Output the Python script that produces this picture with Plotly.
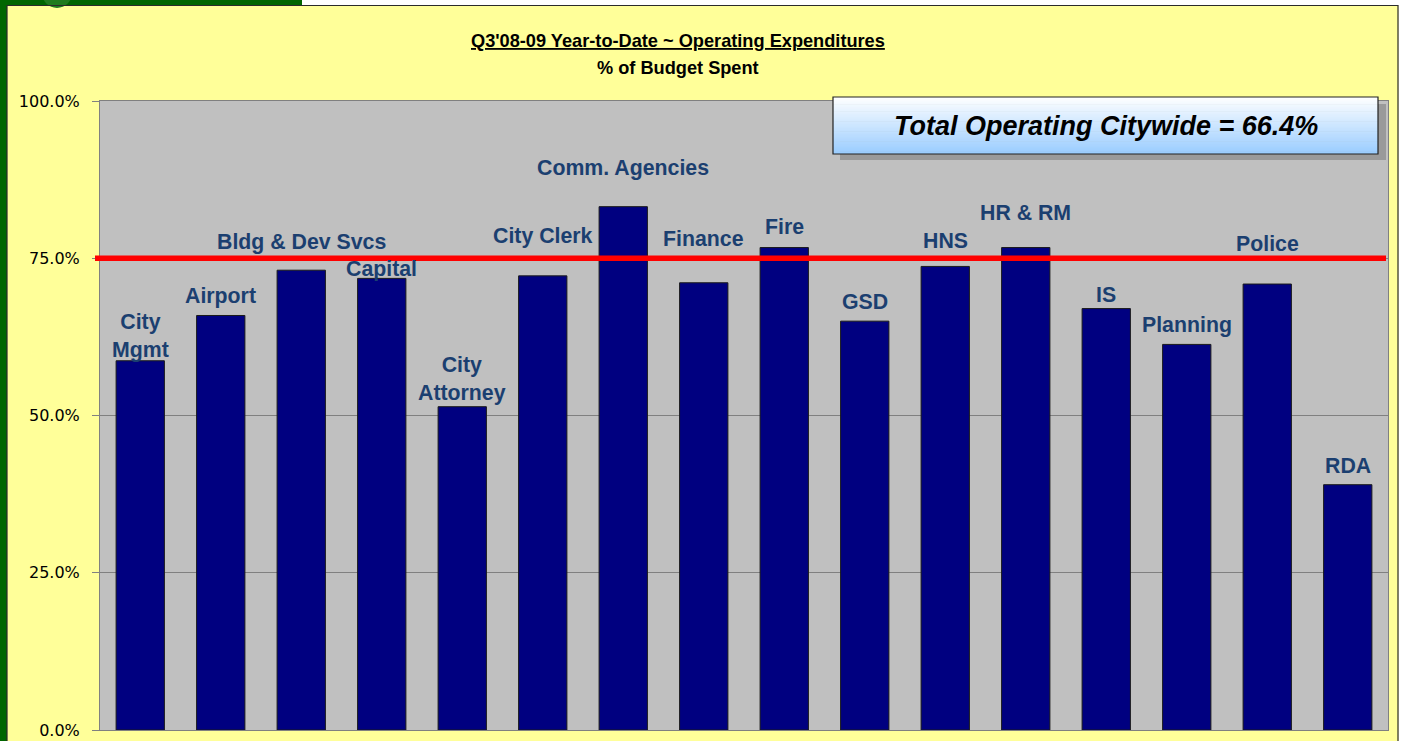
import plotly.graph_objects as go

# ---- data ----
departments = ["City Mgmt", "Airport", "Bldg & Dev Svcs", "Capital", "City Attorney",
               "City Clerk", "Comm. Agencies", "Finance", "Fire", "GSD", "HNS",
               "HR & RM", "IS", "Planning", "Police", "RDA"]
label_text = ["City<br>Mgmt", "Airport", "Bldg & Dev Svcs", "Capital", "City<br>Attorney",
              "City Clerk", "Comm. Agencies", "Finance", "Fire", "GSD", "HNS",
              "HR & RM", "IS", "Planning", "Police", "RDA"]
pct_spent = [58.7, 65.9, 73.1, 71.8, 51.4, 72.2, 83.2, 71.1, 76.7, 65.0, 73.7,
             76.7, 67.0, 61.3, 70.9, 39.0]
target_pct = 75.0
citywide_total = 66.4
y_ticks = [0, 25, 50, 75, 100]

# label placement (data units, vertical centre of each label)
label_y = [62.6, 69.0, 77.6, 73.3, 55.8, 78.5, 89.3, 78.1, 80.0, 68.0, 77.7,
           82.2, 69.2, 64.4, 77.3, 42.0]

# ---- geometry helpers (pixels -> paper) ----
W_FIG, H_FIG = 1403, 741
L, R, T, B = 100, 1388, 101, 730
PW, PH = R - L, B - T


def px(x):
    return (x - L) / PW


def py(y):
    return (B - y) / PH


YELLOW = "#FFFF99"
GREEN = "#006600"
NAVY = "#000080"
LABEL_COLOR = "#1B3F70"
GRID = "#808080"

fig = go.Figure()
fig.add_trace(go.Bar(
    x=departments, y=pct_spent,
    marker=dict(color=NAVY, line=dict(color="#1a1a1a", width=1)),
    hoverinfo="x+y", showlegend=False,
))

shapes = []
# frame decorations
shapes.append(dict(type="rect", xref="paper", yref="paper", layer="below",
                   x0=px(-2), x1=px(7), y0=py(-2), y1=py(H_FIG + 2), fillcolor=GREEN, line_width=0))
shapes.append(dict(type="rect", xref="paper", yref="paper", layer="below",
                   x0=px(-2), x1=px(302), y0=py(-2), y1=py(5), fillcolor=GREEN, line_width=0))
shapes.append(dict(type="circle", xref="paper", yref="paper", layer="below",
                   x0=px(42), x1=px(72), y0=py(-22), y1=py(8), fillcolor="#1E7B1E", line_width=0))
shapes.append(dict(type="rect", xref="paper", yref="paper", layer="below",
                   x0=px(302), x1=px(W_FIG + 2), y0=py(-2), y1=py(5), fillcolor="white", line_width=0))
shapes.append(dict(type="rect", xref="paper", yref="paper", layer="below",
                   x0=px(1398.5), x1=px(W_FIG + 2), y0=py(-2), y1=py(H_FIG + 2), fillcolor="white", line_width=0))
shapes.append(dict(type="rect", xref="paper", yref="paper", layer="below",
                   x0=px(7), x1=px(1398), y0=py(5.5), y1=py(H_FIG + 5),
                   fillcolor="rgba(0,0,0,0)", line=dict(color="#2b2b2b", width=1.2)))

# target line
shapes.append(dict(type="line", xref="paper", yref="y", layer="above",
                   x0=px(95), x1=px(1386), y0=target_pct, y1=target_pct,
                   line=dict(color="#FF0000", width=5.5)))

# citywide total box (shadow + gradient)
bx0, bx1, by0, by1 = 833, 1378, 97, 154
shapes.append(dict(type="rect", xref="paper", yref="paper", layer="above",
                   x0=px(bx0 + 7), x1=px(bx1 + 8), y0=py(by0 + 7), y1=py(by1 + 6),
                   fillcolor="#9A9A9A", line_width=0))
N = 40
top_rgb = (255, 255, 255)
bot_rgb = (153, 204, 255)
for i in range(N):
    t = (i + 0.5) / N
    c = tuple(round(top_rgb[k] + (bot_rgb[k] - top_rgb[k]) * t) for k in range(3))
    ya = by0 + (by1 - by0) * i / N
    yb = by0 + (by1 - by0) * (i + 1) / N + 0.6
    shapes.append(dict(type="rect", xref="paper", yref="paper", layer="above",
                       x0=px(bx0), x1=px(bx1), y0=py(min(yb, by1)), y1=py(ya),
                       fillcolor="rgb(%d,%d,%d)" % c, line_width=0))
shapes.append(dict(type="rect", xref="paper", yref="paper", layer="above",
                   x0=px(bx0), x1=px(bx1), y0=py(by1), y1=py(by0),
                   fillcolor="rgba(0,0,0,0)", line=dict(color="#222222", width=1.2)))

annotations = []
for name, txt, ly in zip(departments, label_text, label_y):
    annotations.append(dict(x=name, y=ly, xref="x", yref="y", text="<b>%s</b>" % txt,
                            showarrow=False, xanchor="center", yanchor="middle",
                            font=dict(family="Liberation Sans, Arial", size=21.3, color=LABEL_COLOR)))

annotations.append(dict(x=px(678), y=py(41), xref="paper", yref="paper",
                        text="<b><u>Q3'08-09 Year-to-Date ~ Operating Expenditures</u></b>",
                        showarrow=False, xanchor="center", yanchor="middle",
                        font=dict(family="Liberation Sans, Arial", size=18.2, color="black")))
annotations.append(dict(x=px(678), y=py(68), xref="paper", yref="paper",
                        text="<b>% of Budget Spent</b>",
                        showarrow=False, xanchor="center", yanchor="middle",
                        font=dict(family="Liberation Sans, Arial", size=18.2, color="black")))
annotations.append(dict(x=px((bx0 + bx1) / 2), y=py((by0 + by1) / 2), xref="paper", yref="paper",
                        text="<b><i>Total Operating Citywide = %.1f%%</i></b>" % citywide_total,
                        showarrow=False, xanchor="center", yanchor="middle",
                        font=dict(family="Liberation Sans, Arial", size=27, color="black")))

fig.update_layout(
    width=W_FIG, height=H_FIG,
    margin=dict(l=L, r=W_FIG - R, t=T, b=H_FIG - B, pad=0, autoexpand=False),
    paper_bgcolor=YELLOW, plot_bgcolor="#C0C0C0",
    bargap=0.4,
    shapes=shapes, annotations=annotations,
    showlegend=False,
)
fig.update_xaxes(showticklabels=False, ticks="", showgrid=False, showline=True,
                 linecolor=GRID, linewidth=1, mirror=True, zeroline=False, automargin=False)
fig.update_yaxes(range=[0, 100], tickvals=y_ticks,
                 ticktext=["%.1f%%" % v for v in y_ticks],
                 showgrid=True, gridcolor=GRID, gridwidth=1,
                 ticks="outside", ticklen=7, tickcolor=GRID,
                 showline=True, linecolor=GRID, linewidth=1, mirror=True, zeroline=False,
                 ticklabelstandoff=9, automargin=False,
                 tickfont=dict(family="DejaVu Sans", size=16, color="black"))

fig.write_html("out.html",
               config={"displayModeBar": False},
               post_script="document.body.style.margin='0';document.body.style.padding='0';"
                           "document.body.style.overflow='hidden';")
